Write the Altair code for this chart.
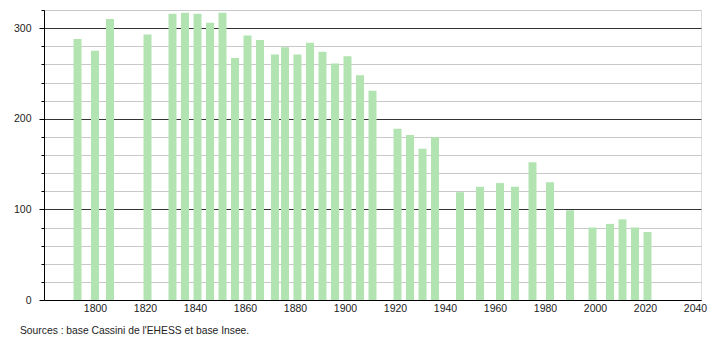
import altair as alt
import pandas as pd

years = [1793, 1800, 1806, 1821, 1831, 1836, 1841, 1846, 1851, 1856,
         1861, 1866, 1872, 1876, 1881, 1886, 1891, 1896, 1901, 1906,
         1911, 1921, 1926, 1931, 1936, 1946, 1954, 1962, 1968, 1975,
         1982, 1990, 1999, 2006, 2011, 2016, 2021]
population = [288, 275, 310, 293, 316, 317, 316, 306, 317, 267,
              292, 287, 271, 279, 271, 284, 274, 261, 269, 248,
              231, 189, 182, 167, 180, 119, 125, 129, 125, 152,
              130, 99, 80, 84, 89, 80, 75]

df = pd.DataFrame({"annee": years, "population": population})

source_text = "Sources : base Cassini de l'EHESS et base Insee."

major = "datum.value % 100 === 0"

chart = alt.Chart(df).mark_bar(width=8, color="#b2e4b2").encode(
    x=alt.X("annee:Q",
            scale=alt.Scale(domain=[1779.6, 2042.4], nice=False, zero=False, padding=0),
            axis=alt.Axis(values=list(range(1800, 2041, 20)), title=None,
                          grid=False, ticks=False, domainColor="#000",
                          labelFont="Liberation Sans", labelFontSize=10.5,
                          labelColor="#222", labelPadding=3, format="d",
                          labelFlush=False)),
    y=alt.Y("population:Q",
            scale=alt.Scale(domain=[0, 320], nice=False, padding=0),
            axis=alt.Axis(values=list(range(0, 321, 20)), title=None,
                          grid=True,
                          gridColor={"condition": {"test": major, "value": "#333333"}, "value": "#c8c8c8"},
                          gridWidth={"condition": {"test": major, "value": 1.2}, "value": 1},
                          tickSize={"condition": {"test": major, "value": 5}, "value": 3},
                          tickColor="#000", domainColor="#000",
                          labelExpr="datum.value % 100 === 0 ? datum.label : ''",
                          labelFont="Liberation Sans", labelFontSize=10.5,
                          labelColor="#222", labelPadding=8)),
).properties(
    width=657, height=290,
    title=alt.TitleParams(source_text, orient="bottom", anchor="start",
                          frame="group", dx=-24, offset=12,
                          font="Liberation Sans", fontSize=10.3,
                          fontWeight="normal", color="#222"),
    autosize=alt.AutoSizeParams(type="none"),
    padding={"left": 44, "top": 10, "right": 9, "bottom": 40},
).configure_view(stroke=None).configure(background="white")

chart.save("out.html", embed_options={"renderer": "svg", "actions": False})
